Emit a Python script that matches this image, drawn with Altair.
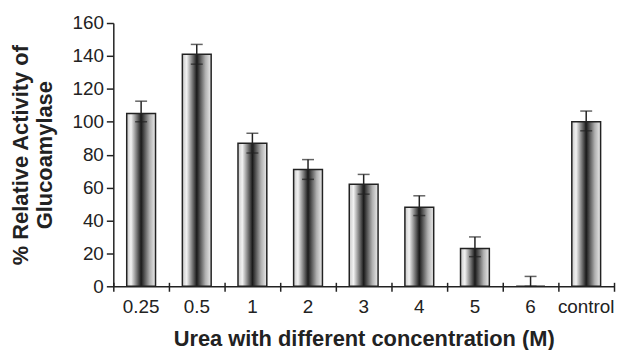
import altair as alt
import pandas as pd

cats = ["0.25", "0.5", "1", "2", "3", "4", "5", "6", "control"]
vals = [105, 141, 87, 71, 62, 48, 23, 0, 100]
upper = [112.5, 147, 93, 77, 68, 55, 30, 6, 106.5]
lower = [100, 135, 81, 65, 56, 43, 18, 0, 94.5]
yticks = [0, 20, 40, 60, 80, 100, 120, 140, 160]

df = pd.DataFrame({"cat": cats, "val": vals, "hi": upper, "lo": lower})

FONT = "Liberation Sans"
INK = "#222222"

xscale = alt.Scale(domain=cats, paddingInner=0, paddingOuter=0)
yscale = alt.Scale(domain=[0, 160])

yaxis = alt.Axis(values=yticks, title=["% Relative Activity of", "Glucoamylase"],
                 grid=False, tickSize=7, tickColor=INK, tickWidth=1.5,
                 domainColor=INK, domainWidth=1.5, labelOverlap=False,
                 labelFont=FONT, labelFontSize=19, labelColor=INK, labelPadding=3,
                 titleFont=FONT, titleFontSize=22, titleFontWeight="bold",
                 titleColor=INK, titlePadding=15, titleLineHeight=25)

base = alt.Chart(df)

grad = alt.Gradient(
    gradient="linear", x1=0, x2=1, y1=0, y2=0,
    stops=[
        alt.GradientStop(offset=0, color="#c8c8c8"),
        alt.GradientStop(offset=0.15, color="#f2f2f2"),
        alt.GradientStop(offset=0.5, color="#1a1a1a"),
        alt.GradientStop(offset=0.8, color="#b0b0b0"),
        alt.GradientStop(offset=1, color="#ececec"),
    ],
)

bars = base.mark_bar(size=29, color=grad, stroke=INK, strokeWidth=1.5).encode(
    x=alt.X("cat:N", scale=xscale, sort=cats,
            axis=alt.Axis(orient="bottom", title="Urea with different concentration (M)",
                          labelAngle=0, ticks=False, domainColor=INK, domainWidth=1.5,
                          labelFont=FONT, labelFontSize=19, labelColor=INK, labelPadding=11,
                          titleFont=FONT, titleFontSize=22, titleFontWeight="bold",
                          titleColor=INK, titlePadding=13)),
    y=alt.Y("val:Q", scale=yscale, axis=yaxis),
)

xt = alt.X("cat:N", scale=xscale, sort=cats,
           axis=alt.Axis(orient="bottom", title=None, labels=False, domain=False,
                         tickBand="extent", tickSize=9, offset=-4,
                         tickColor=INK, tickWidth=1.5))

stem = base.mark_rule(color=INK, strokeWidth=1.5).encode(
    x=xt, y=alt.Y("lo:Q", scale=yscale, axis=yaxis), y2="hi:Q")
caps_hi = base.mark_tick(color=INK, size=12, thickness=1.5, orient="horizontal").encode(
    x=alt.X("cat:N", scale=xscale, sort=cats, axis=None),
    y=alt.Y("hi:Q", scale=yscale, axis=yaxis))
caps_lo = base.mark_tick(color=INK, size=12, thickness=1.5, orient="horizontal").encode(
    x=alt.X("cat:N", scale=xscale, sort=cats, axis=None),
    y=alt.Y("lo:Q", scale=yscale, axis=yaxis))

chart = alt.layer(bars, stem, caps_hi, caps_lo).resolve_axis(x="independent").properties(
    width=504, height=265,
    autosize=alt.AutoSizeParams(type="none"),
    padding={"left": 106, "top": 14, "right": 3, "bottom": 63},
).configure_view(stroke=None)

chart.save("out.html", embed_options={"renderer": "svg", "actions": False})
